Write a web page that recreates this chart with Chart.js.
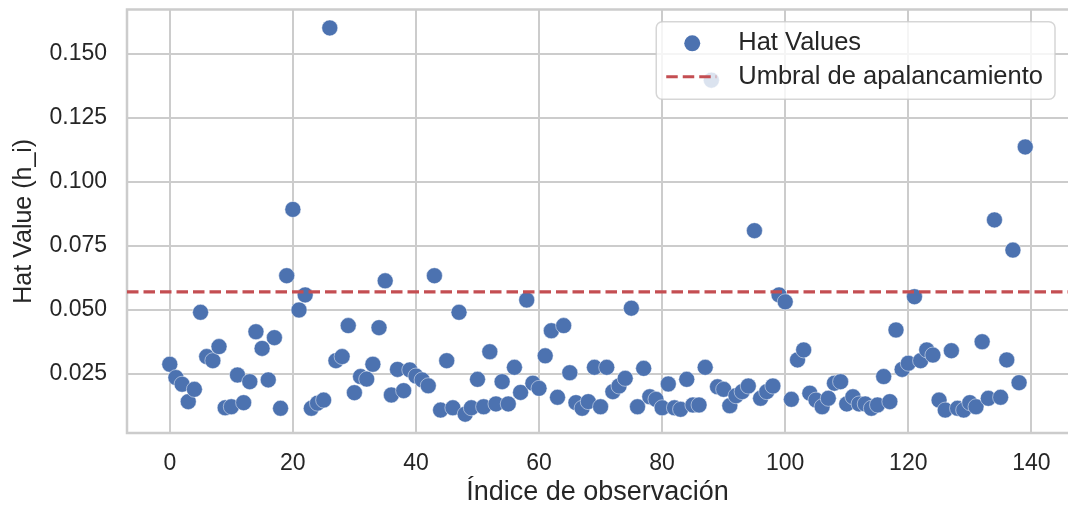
<!DOCTYPE html>
<html>
<head>
<meta charset="utf-8">
<script src="https://cdn.jsdelivr.net/npm/chart.js@4.4.1/dist/chart.umd.min.js"></script>
<style>
  html, body { margin: 0; padding: 0; background: #ffffff; }
  #wrap { width: 1068px; height: 506px; position: relative; }
</style>
</head>
<body>
<div id="wrap"><canvas id="c" width="1068" height="506"></canvas></div>
<script>
// ---- data ----
const hatValues = [
  0.0288, 0.0236, 0.0210, 0.0142, 0.0190, 0.0491, 0.0318, 0.0302, 0.0357, 0.0118,
  0.0122, 0.0246, 0.0138, 0.0220, 0.0415, 0.0350, 0.0227, 0.0392, 0.0116, 0.0634,
  0.0893, 0.0500, 0.0559, 0.0116, 0.0136, 0.0148, 0.1602, 0.0302, 0.0318, 0.0439,
  0.0177, 0.0240, 0.0230, 0.0288, 0.0431, 0.0614, 0.0168, 0.0268, 0.0185, 0.0266,
  0.0242, 0.0227, 0.0204, 0.0634, 0.0109, 0.0302, 0.0118, 0.0491, 0.0093, 0.0118,
  0.0229, 0.0122, 0.0337, 0.0133, 0.0220, 0.0133, 0.0276, 0.0178, 0.0539, 0.0214,
  0.0194, 0.0321, 0.0419, 0.0159, 0.0439, 0.0255, 0.0138, 0.0116, 0.0142, 0.0276,
  0.0122, 0.0276, 0.0181, 0.0203, 0.0233, 0.0507, 0.0122, 0.0272, 0.0161, 0.0151,
  0.0118, 0.0211, 0.0118, 0.0112, 0.0229, 0.0129, 0.0129, 0.0276, 0.1398, 0.0200,
  0.0190, 0.0126, 0.0165, 0.0181, 0.0203, 0.0810, 0.0155, 0.0181, 0.0203, 0.0559,
  0.0532, 0.0151, 0.0305, 0.0344, 0.0175, 0.0148, 0.0122, 0.0155, 0.0214, 0.0220,
  0.0133, 0.0161, 0.0133, 0.0133, 0.0116, 0.0129, 0.0240, 0.0142, 0.0422, 0.0268,
  0.0292, 0.0552, 0.0302, 0.0344, 0.0324, 0.0148, 0.0109, 0.0341, 0.0116, 0.0109,
  0.0138, 0.0122, 0.0376, 0.0155, 0.0852, 0.0159, 0.0305, 0.0734, 0.0216, 0.1137
];
const observationIndex = hatValues.map((_, i) => i);
const leverageThreshold = 0.0571;
const seriesLabels = ['Hat Values', 'Umbral de apalancamiento'];
const xTickValues = [0, 20, 40, 60, 80, 100, 120, 140];
const yTickValues = [0.025, 0.050, 0.075, 0.100, 0.125, 0.150];
const xAxisTitle = 'Índice de observación';
const yAxisTitle = 'Hat Value (h_i)';

// ---- view settings ----
const X_MIN = -6.95, X_MAX = 145.95;
const Y_MIN = 0.00195, Y_MAX = 0.1674;
const FONT = '"Liberation Sans", Arial, Helvetica, sans-serif';
const TEXT = '#262626';
const GRID = '#cccccc';
const BLUE = '#4C72B0';
const RED = '#C44E52';

// spines: left, top and bottom (the right one falls at the image edge)
const framePlugin = {
  id: 'frame',
  beforeDatasetsDraw(chart) {
    const { ctx, chartArea: a } = chart;
    ctx.save();
    ctx.strokeStyle = GRID;
    ctx.lineWidth = 2.5;
    ctx.beginPath();
    ctx.moveTo(a.right + 4, a.top);
    ctx.lineTo(a.left, a.top);
    ctx.lineTo(a.left, a.bottom);
    ctx.lineTo(a.right + 4, a.bottom);
    ctx.stroke();
    ctx.restore();
  }
};

const legendPlugin = {
  id: 'mplLegend',
  afterDatasetsDraw(chart) {
    const { ctx, chartArea: a } = chart;
    const ds = chart.data.datasets;
    ctx.save();
    ctx.font = '25.5px ' + FONT;
    const textW = Math.max(...ds.map(d => ctx.measureText(d.label).width));
    const right = a.right - 13;
    const top = a.top + 12.2;
    const left = right - 12 - textW - 82;
    const h = 77.5;
    const r = 6;
    ctx.beginPath();
    ctx.moveTo(left + r, top);
    ctx.lineTo(right - r, top);
    ctx.arcTo(right, top, right, top + r, r);
    ctx.lineTo(right, top + h - r);
    ctx.arcTo(right, top + h, right - r, top + h, r);
    ctx.lineTo(left + r, top + h);
    ctx.arcTo(left, top + h, left, top + h - r, r);
    ctx.lineTo(left, top + r);
    ctx.arcTo(left, top, left + r, top, r);
    ctx.closePath();
    ctx.fillStyle = 'rgba(255,255,255,0.8)';
    ctx.fill();
    ctx.strokeStyle = 'rgba(204,204,204,0.8)';
    ctx.lineWidth = 1.5;
    ctx.stroke();

    const row1 = top + 21.6, row2 = top + 55;
    ctx.beginPath();
    ctx.arc(left + 36, row1, 8, 0, Math.PI * 2);
    ctx.fillStyle = ds[0].backgroundColor;
    ctx.fill();
    ctx.beginPath();
    ctx.setLineDash(ds[1].borderDash);
    ctx.strokeStyle = ds[1].borderColor;
    ctx.lineWidth = ds[1].borderWidth;
    ctx.moveTo(left + 10, row2);
    ctx.lineTo(left + 60, row2);
    ctx.stroke();
    ctx.setLineDash([]);

    ctx.fillStyle = TEXT;
    ctx.textBaseline = 'middle';
    ctx.textAlign = 'left';
    ctx.fillText(ds[0].label, left + 82, row1);
    ctx.fillText(ds[1].label, left + 82, row2);
    ctx.restore();
  }
};

new Chart(document.getElementById('c'), {
  type: 'scatter',
  data: {
    datasets: [
      {
        label: seriesLabels[0],
        data: observationIndex.map((x, i) => ({ x: x, y: hatValues[i] })),
        backgroundColor: BLUE,
        borderColor: 'rgba(255,255,255,0.6)',
        borderWidth: 0.8,
        pointRadius: 8,
        pointHoverRadius: 8,
        order: 1
      },
      {
        type: 'line',
        label: seriesLabels[1],
        data: [{ x: X_MIN, y: leverageThreshold }, { x: X_MAX, y: leverageThreshold }],
        borderColor: RED,
        backgroundColor: RED,
        borderWidth: 3.1,
        borderDash: [11.5, 5],
        pointRadius: 0,
        fill: false,
        showLine: true,
        order: 0
      }
    ]
  },
  options: {
    responsive: false,
    animation: false,
    events: [],
    layout: { autoPadding: false, padding: { left: 0, right: 0, top: 9.5, bottom: 0 } },
    plugins: { legend: { display: false }, tooltip: { enabled: false } },
    scales: {
      x: {
        type: 'linear',
        min: X_MIN,
        max: X_MAX,
        afterBuildTicks: s => { s.ticks = xTickValues.map(v => ({ value: v })); },
        afterFit: s => { s.height = 73; s.paddingLeft = 0; s.paddingRight = 0; },
        ticks: {
          padding: 17,
          autoSkip: false,
          maxRotation: 0,
          color: TEXT,
          font: { family: FONT, size: 23 },
          callback: v => String(v)
        },
        grid: { color: GRID, lineWidth: 2, drawTicks: false },
        border: { display: false },
        title: {
          display: true,
          text: xAxisTitle,
          color: TEXT,
          font: { family: FONT, size: 27 },
          padding: { top: 0, bottom: -3 }
        }
      },
      y: {
        type: 'linear',
        min: Y_MIN,
        max: Y_MAX,
        afterBuildTicks: s => { s.ticks = yTickValues.map(v => ({ value: v })); },
        afterFit: s => { s.width = 127; s.paddingTop = 0; s.paddingBottom = 0; },
        ticks: {
          padding: 20,
          autoSkip: false,
          color: TEXT,
          font: { family: FONT, size: 23 },
          callback: v => v.toFixed(3)
        },
        grid: { color: GRID, lineWidth: 2, drawTicks: false },
        border: { display: false },
        title: {
          display: true,
          text: yAxisTitle,
          color: TEXT,
          font: { family: FONT, size: 25 },
          padding: { top: 9, bottom: 0 }
        }
      }
    }
  },
  plugins: [framePlugin, legendPlugin]
});
</script>
</body>
</html>
